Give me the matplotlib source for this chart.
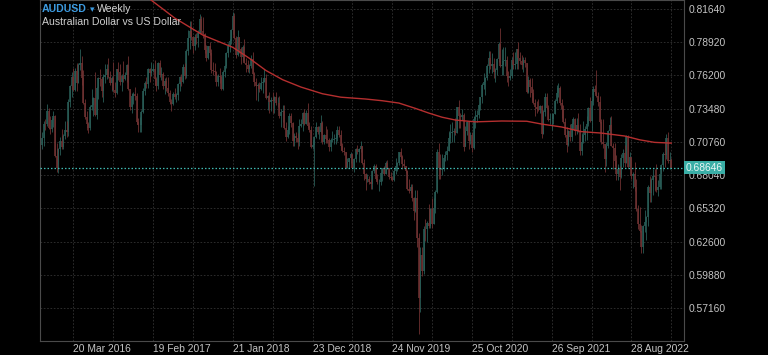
import numpy as np
import pandas as pd
import matplotlib
matplotlib.use("Agg")
import matplotlib.pyplot as plt
from matplotlib import transforms

plt.rcParams['font.family'] = ['Liberation Sans', 'DejaVu Sans']

# weekly AUDUSD candles, one per week, first week starts Sun 1 Nov 2015
first_week = "2015-11-01"
first_open = 0.7140

closes = [
    # 2015
    0.7047, 0.7105, 0.7225, 0.7220, 0.7325, 0.7190, 0.7180, 0.7255,
    # 2016
    0.7285, 0.6960, 0.6860, 0.7015, 0.7085, 0.7035, 0.7125, 0.7170, 0.7160, 0.7405,
    0.7530, 0.7605, 0.7500, 0.7660, 0.7555, 0.7705, 0.7725, 0.7600, 0.7395, 0.7280,
    0.7220, 0.7190, 0.7365, 0.7375, 0.7435, 0.7295, 0.7515, 0.7600, 0.7590, 0.7490,
    0.7605, 0.7620, 0.7670, 0.7610, 0.7555, 0.7595, 0.7500, 0.7480, 0.7670, 0.7650,
    0.7565, 0.7615, 0.7590, 0.7625, 0.7705, 0.7510, 0.7360, 0.7450, 0.7465, 0.7455,
    0.7240, 0.7215, 0.7215,
    # 2017
    0.7320, 0.7495, 0.7555, 0.7550, 0.7670, 0.7640, 0.7660, 0.7675, 0.7590, 0.7530,
    0.7720, 0.7625, 0.7635, 0.7530, 0.7575, 0.7520, 0.7475, 0.7405, 0.7385, 0.7470,
    0.7445, 0.7460, 0.7550, 0.7610, 0.7565, 0.7690, 0.7615, 0.7820, 0.7925, 0.7985,
    0.7935, 0.7865, 0.7935, 0.7930, 0.7970, 0.8085, 0.7985, 0.7960, 0.7830, 0.7760,
    0.7860, 0.7805, 0.7665, 0.7660, 0.7650, 0.7570, 0.7615, 0.7605, 0.7510, 0.7650,
    0.7695, 0.7805,
    # 2018
    0.7865, 0.7905, 0.7990, 0.8105, 0.7930, 0.7785, 0.7935, 0.7835, 0.7775, 0.7855,
    0.7725, 0.7705, 0.7675, 0.7695, 0.7755, 0.7635, 0.7565, 0.7530, 0.7540, 0.7510,
    0.7555, 0.7570, 0.7600, 0.7435, 0.7455, 0.7400, 0.7420, 0.7410, 0.7445, 0.7395,
    0.7395, 0.7285, 0.7320, 0.7325, 0.7190, 0.7115, 0.7170, 0.7290, 0.7230, 0.7080,
    0.7125, 0.7105, 0.7075, 0.7210, 0.7225, 0.7315, 0.7225, 0.7315, 0.7205, 0.7175,
    0.7035, 0.7050,
    # 2019
    0.7115, 0.7195, 0.7160, 0.7160, 0.7230, 0.7075, 0.7135, 0.7100, 0.7090, 0.7035,
    0.7095, 0.7095, 0.7100, 0.7105, 0.7170, 0.7135, 0.7045, 0.7005, 0.6995, 0.6865,
    0.6915, 0.6940, 0.6975, 0.6865, 0.6935, 0.7020, 0.6990, 0.7020, 0.7040, 0.6900,
    0.6810, 0.6775, 0.6775, 0.6745, 0.6735, 0.6835, 0.6875, 0.6770, 0.6750, 0.6750,
    0.6820, 0.6860, 0.6815, 0.6905, 0.6860, 0.6790, 0.6780, 0.6765, 0.6835, 0.6875,
    0.6900, 0.6990,
    # 2020
    0.6955, 0.6895, 0.6875, 0.6840, 0.6690, 0.6670, 0.6710, 0.6615, 0.6510, 0.6620,
    0.6290, 0.5800, 0.6150, 0.6015, 0.6365, 0.6360, 0.6410, 0.6390, 0.6525, 0.6400,
    0.6535, 0.6665, 0.6990, 0.6860, 0.6845, 0.6865, 0.6945, 0.6970, 0.7000, 0.7110,
    0.7145, 0.7155, 0.7165, 0.7150, 0.7360, 0.7285, 0.7280, 0.7300, 0.7035, 0.7165,
    0.7235, 0.7080, 0.7135, 0.7025, 0.7260, 0.7280, 0.7300, 0.7380, 0.7440, 0.7540,
    0.7570, 0.7600,
    # 2021
    0.7700, 0.7765, 0.7700, 0.7710, 0.7650, 0.7665, 0.7755, 0.7875, 0.7700, 0.7705,
    0.7735, 0.7745, 0.7615, 0.7595, 0.7615, 0.7745, 0.7705, 0.7715, 0.7835, 0.7765,
    0.7735, 0.7705, 0.7745, 0.7720, 0.7485, 0.7580, 0.7525, 0.7480, 0.7395, 0.7365,
    0.7345, 0.7340, 0.7370, 0.7140, 0.7320, 0.7440, 0.7355, 0.7255, 0.7260, 0.7265,
    0.7305, 0.7410, 0.7475, 0.7520, 0.7395, 0.7345, 0.7240, 0.7130, 0.7050, 0.7165,
    0.7115, 0.7225, 0.7265,
    # 2022
    0.7165, 0.7215, 0.7165, 0.7000, 0.7075, 0.7135, 0.7185, 0.7225, 0.7355, 0.7250,
    0.7410, 0.7510, 0.7485, 0.7455, 0.7405, 0.7240, 0.7075, 0.7055, 0.6935, 0.7045,
    0.7165, 0.7215, 0.7045, 0.7025, 0.6920, 0.6815, 0.6850, 0.6785, 0.6945, 0.6985,
    0.6905, 0.7115, 0.6870, 0.6955, 0.6795, 0.6815, 0.6705, 0.6525, 0.6400, 0.6350,
    0.6215, 0.6385, 0.6420, 0.6465, 0.6705, 0.6655, 0.6760, 0.6800, 0.6790, 0.6685,
    0.6705, 0.6815,
    # 2023
    0.6890, 0.6975, 0.6965, 0.7105, 0.6920, 0.6930, 0.68646,
]

highs = [
    # 2015
    0.7180, 0.7160, 0.7245, 0.7265, 0.7385, 0.7355, 0.7285, 0.7275,
    # 2016
    0.7325, 0.7295, 0.7070, 0.7030, 0.7115, 0.7185, 0.7140, 0.7250, 0.7245, 0.7430,
    0.7540, 0.7650, 0.7680, 0.7680, 0.7720, 0.7720, 0.7835, 0.7780, 0.7665, 0.7425,
    0.7330, 0.7240, 0.7375, 0.7505, 0.7445, 0.7650, 0.7525, 0.7610, 0.7675, 0.7605,
    0.7635, 0.7715, 0.7710, 0.7760, 0.7655, 0.7615, 0.7730, 0.7570, 0.7675, 0.7730,
    0.7710, 0.7635, 0.7735, 0.7650, 0.7710, 0.7780, 0.7510, 0.7475, 0.7485, 0.7525,
    0.7475, 0.7275, 0.7280,
    # 2017
    0.7335, 0.7520, 0.7575, 0.7610, 0.7680, 0.7680, 0.7730, 0.7710, 0.7745, 0.7605,
    0.7730, 0.7750, 0.7690, 0.7645, 0.7600, 0.7610, 0.7610, 0.7500, 0.7425, 0.7485,
    0.7515, 0.7475, 0.7560, 0.7615, 0.7635, 0.7715, 0.7720, 0.7835, 0.7990, 0.8065,
    0.8065, 0.7940, 0.7960, 0.7965, 0.7990, 0.8125, 0.8105, 0.8100, 0.7965, 0.7870,
    0.7865, 0.7895, 0.7840, 0.7730, 0.7720, 0.7660, 0.7630, 0.7680, 0.7620, 0.7665,
    0.7705, 0.7810,
    # 2018
    0.7885, 0.7915, 0.8000, 0.8136, 0.8135, 0.7945, 0.7990, 0.7935, 0.7850, 0.7870,
    0.7915, 0.7765, 0.7745, 0.7715, 0.7790, 0.7810, 0.7650, 0.7595, 0.7555, 0.7570,
    0.7610, 0.7580, 0.7675, 0.7630, 0.7460, 0.7485, 0.7440, 0.7485, 0.7450, 0.7485,
    0.7440, 0.7450, 0.7345, 0.7380, 0.7380, 0.7235, 0.7205, 0.7315, 0.7315, 0.7240,
    0.7145, 0.7160, 0.7150, 0.7260, 0.7260, 0.7320, 0.7345, 0.7340, 0.7395, 0.7235,
    0.7205, 0.7090,
    # 2019
    0.7125, 0.7235, 0.7205, 0.7205, 0.7295, 0.7245, 0.7140, 0.7205, 0.7180, 0.7110,
    0.7105, 0.7165, 0.7140, 0.7145, 0.7205, 0.7205, 0.7175, 0.7070, 0.7035, 0.6995,
    0.6940, 0.6940, 0.6990, 0.6980, 0.6945, 0.7030, 0.7050, 0.7025, 0.7080, 0.7045,
    0.6935, 0.6820, 0.6815, 0.6800, 0.6770, 0.6845, 0.6895, 0.6895, 0.6810, 0.6770,
    0.6830, 0.6865, 0.6880, 0.6920, 0.6930, 0.6865, 0.6830, 0.6800, 0.6860, 0.6940,
    0.6910, 0.6995,
    # 2020
    0.7030, 0.6965, 0.6935, 0.6880, 0.6845, 0.6775, 0.6730, 0.6735, 0.6625, 0.6685,
    0.6685, 0.6330, 0.6215, 0.6215, 0.6385, 0.6445, 0.6430, 0.6570, 0.6535, 0.6615,
    0.6615, 0.6685, 0.7015, 0.7065, 0.6975, 0.6975, 0.6950, 0.7000, 0.7040, 0.7165,
    0.7225, 0.7240, 0.7190, 0.7275, 0.7365, 0.7415, 0.7310, 0.7345, 0.7315, 0.7205,
    0.7245, 0.7245, 0.7160, 0.7160, 0.7290, 0.7340, 0.7340, 0.7385, 0.7445, 0.7555,
    0.7640, 0.7605,
    # 2021
    0.7710, 0.7820, 0.7820, 0.7805, 0.7765, 0.7685, 0.7760, 0.7890, 0.8007, 0.7840,
    0.7850, 0.7850, 0.7780, 0.7655, 0.7670, 0.7770, 0.7815, 0.7815, 0.7840, 0.7890,
    0.7810, 0.7790, 0.7775, 0.7775, 0.7725, 0.7615, 0.7600, 0.7600, 0.7505, 0.7425,
    0.7410, 0.7425, 0.7380, 0.7375, 0.7335, 0.7475, 0.7480, 0.7375, 0.7315, 0.7315,
    0.7315, 0.7425, 0.7545, 0.7555, 0.7535, 0.7425, 0.7375, 0.7275, 0.7195, 0.7175,
    0.7225, 0.7230, 0.7280,
    # 2022
    0.7275, 0.7275, 0.7315, 0.7225, 0.7145, 0.7250, 0.7210, 0.7285, 0.7365, 0.7440,
    0.7425, 0.7530, 0.7540, 0.7661, 0.7485, 0.7455, 0.7265, 0.7265, 0.7055, 0.7075,
    0.7170, 0.7280, 0.7285, 0.7070, 0.7070, 0.6965, 0.6895, 0.6875, 0.6975, 0.7015,
    0.7050, 0.7135, 0.7135, 0.6990, 0.6955, 0.6830, 0.6915, 0.6770, 0.6560, 0.6545,
    0.6395, 0.6395, 0.6520, 0.6470, 0.6720, 0.6795, 0.6780, 0.6850, 0.6850, 0.6895,
    0.6765, 0.6815,
    # 2023
    0.6895, 0.6990, 0.7065, 0.7140, 0.7158, 0.6995, 0.6945,
]

lows = [
    # 2015
    0.7015, 0.7015, 0.7045, 0.7175, 0.7205, 0.7180, 0.7140, 0.7160,
    # 2016
    0.7195, 0.6955, 0.6830, 0.6825, 0.6970, 0.7015, 0.7020, 0.7100, 0.7115, 0.7125,
    0.7365, 0.7440, 0.7490, 0.7490, 0.7490, 0.7555, 0.7665, 0.7540, 0.7385, 0.7265,
    0.7175, 0.7145, 0.7175, 0.7340, 0.7285, 0.7285, 0.7265, 0.7430, 0.7530, 0.7445,
    0.7400, 0.7560, 0.7590, 0.7595, 0.7545, 0.7490, 0.7485, 0.7445, 0.7465, 0.7580,
    0.7545, 0.7490, 0.7570, 0.7580, 0.7570, 0.7500, 0.7340, 0.7310, 0.7385, 0.7420,
    0.7225, 0.7160, 0.7160,
    # 2017
    0.7160, 0.7315, 0.7460, 0.7515, 0.7520, 0.7570, 0.7615, 0.7645, 0.7545, 0.7490,
    0.7510, 0.7610, 0.7580, 0.7505, 0.7470, 0.7490, 0.7455, 0.7390, 0.7330, 0.7375,
    0.7425, 0.7400, 0.7415, 0.7495, 0.7535, 0.7560, 0.7590, 0.7600, 0.7790, 0.7835,
    0.7910, 0.7805, 0.7830, 0.7875, 0.7855, 0.7970, 0.7960, 0.7930, 0.7805, 0.7735,
    0.7755, 0.7790, 0.7640, 0.7625, 0.7625, 0.7530, 0.7530, 0.7560, 0.7500, 0.7500,
    0.7610, 0.7680,
    # 2018
    0.7770, 0.7810, 0.7875, 0.7960, 0.7920, 0.7760, 0.7780, 0.7800, 0.7715, 0.7735,
    0.7720, 0.7645, 0.7650, 0.7640, 0.7680, 0.7630, 0.7535, 0.7415, 0.7410, 0.7485,
    0.7500, 0.7480, 0.7570, 0.7425, 0.7335, 0.7310, 0.7330, 0.7310, 0.7310, 0.7380,
    0.7360, 0.7275, 0.7200, 0.7240, 0.7185, 0.7085, 0.7110, 0.7140, 0.7200, 0.7040,
    0.7040, 0.7075, 0.7020, 0.7040, 0.7200, 0.7165, 0.7215, 0.7225, 0.7190, 0.7160,
    0.7025, 0.7015,
    # 2019
    0.6715, 0.7105, 0.7140, 0.7100, 0.7145, 0.7055, 0.7055, 0.7070, 0.7065, 0.7005,
    0.7000, 0.7075, 0.7055, 0.7060, 0.7080, 0.7120, 0.7010, 0.6990, 0.6970, 0.6860,
    0.6865, 0.6865, 0.6905, 0.6860, 0.6830, 0.6915, 0.6975, 0.6910, 0.6995, 0.6895,
    0.6760, 0.6680, 0.6745, 0.6735, 0.6690, 0.6690, 0.6825, 0.6760, 0.6735, 0.6670,
    0.6720, 0.6755, 0.6805, 0.6810, 0.6850, 0.6770, 0.6765, 0.6755, 0.6755, 0.6815,
    0.6835, 0.6890,
    # 2020
    0.6940, 0.6850, 0.6860, 0.6820, 0.6685, 0.6660, 0.6660, 0.6590, 0.6435, 0.6500,
    0.6215, 0.5506, 0.5685, 0.5980, 0.5995, 0.6265, 0.6255, 0.6370, 0.6370, 0.6370,
    0.6400, 0.6495, 0.6655, 0.6775, 0.6775, 0.6805, 0.6835, 0.6920, 0.6925, 0.7000,
    0.7070, 0.7075, 0.7075, 0.7135, 0.7150, 0.7190, 0.7190, 0.7255, 0.7005, 0.7040,
    0.7130, 0.7020, 0.7060, 0.6990, 0.7015, 0.7190, 0.7240, 0.7270, 0.7340, 0.7395,
    0.7510, 0.7460,
    # 2021
    0.7580, 0.7640, 0.7670, 0.7640, 0.7595, 0.7565, 0.7625, 0.7730, 0.7690, 0.7620,
    0.7625, 0.7700, 0.7565, 0.7530, 0.7585, 0.7600, 0.7675, 0.7675, 0.7675, 0.7675,
    0.7715, 0.7675, 0.7645, 0.7690, 0.7475, 0.7475, 0.7445, 0.7410, 0.7390, 0.7290,
    0.7315, 0.7330, 0.7315, 0.7105, 0.7140, 0.7290, 0.7345, 0.7250, 0.7220, 0.7170,
    0.7225, 0.7305, 0.7395, 0.7440, 0.7380, 0.7275, 0.7230, 0.7115, 0.6995, 0.7045,
    0.7085, 0.7085, 0.7180,
    # 2022
    0.7130, 0.7140, 0.7155, 0.6970, 0.6970, 0.7070, 0.7085, 0.7095, 0.7210, 0.7240,
    0.7165, 0.7375, 0.7465, 0.7440, 0.7370, 0.7230, 0.7055, 0.7030, 0.6830, 0.6875,
    0.7030, 0.7150, 0.7040, 0.6850, 0.6880, 0.6765, 0.6760, 0.6680, 0.6780, 0.6870,
    0.6870, 0.6900, 0.6860, 0.6855, 0.6770, 0.6700, 0.6670, 0.6510, 0.6365, 0.6340,
    0.6170, 0.6170, 0.6340, 0.6270, 0.6385, 0.6585, 0.6585, 0.6640, 0.6670, 0.6665,
    0.6630, 0.6690,
    # 2023
    0.6690, 0.6840, 0.6870, 0.6935, 0.6905, 0.6855, 0.6860,
]

last_price = 0.68646

# long moving average (week index, price)
ma_week = [62, 67, 81, 98, 116, 126, 136, 146, 157, 170, 181, 196, 206, 216,
           226, 234, 242, 250, 262, 278, 293, 302, 314, 326, 338, 352, 361,
           370, 380]
ma_value = [0.8290, 0.8235, 0.8090, 0.7950, 0.7850, 0.7760, 0.7660, 0.7585,
            0.7525, 0.7470, 0.7442, 0.7427, 0.7413, 0.7394, 0.7350, 0.7312,
            0.7278, 0.7255, 0.7240, 0.7247, 0.7245, 0.7222, 0.7198, 0.7160,
            0.7148, 0.7124, 0.7093, 0.7072, 0.7066]

y_ticks = [0.57160, 0.59880, 0.62600, 0.65320, 0.68040,
           0.70760, 0.73480, 0.76200, 0.78920, 0.81640]
x_label_dates = ["2016-03-20", "2017-02-19", "2018-01-21", "2018-12-23",
                 "2019-11-24", "2020-10-25", "2021-09-26", "2022-08-28"]

closes = np.array(closes)
highs = np.array(highs)
lows = np.array(lows)
opens = np.concatenate([[first_open], closes[:-1]])
weeks = np.arange(len(closes))

start = pd.Timestamp(first_week)
label_weeks = [(pd.Timestamp(d) - start).days / 7 for d in x_label_dates]
label_text = [pd.Timestamp(d).strftime("%d %b %Y") for d in x_label_dates]

up_col = "#295d57"
down_col = "#6e3131"
grid_col = "#333333"
text_col = "#c4c4c4"

fig = plt.figure(figsize=(7.68, 3.55), dpi=100, facecolor="black")
ax = fig.add_axes([40 / 768, 14 / 355, 644 / 768, 341 / 355])
ax.set_facecolor("black")
ax.set_xlim(-0.12, 387.7)
ax.set_ylim(0.54458, 0.82377)

# dotted grid
for w in np.arange(20, 388, 24):
    ax.axvline(w, color=grid_col, lw=0.6, ls=(0, (2, 2)), zorder=0)
for v in y_ticks:
    ax.axhline(v, color=grid_col, lw=0.6, ls=(0, (2, 2)), zorder=0)

up = closes >= opens
dn = ~up
ax.vlines(weeks[up], lows[up], highs[up], color=up_col, lw=0.6, zorder=2)
ax.vlines(weeks[up], opens[up], closes[up], color=up_col, lw=1.15, zorder=2)
ax.vlines(weeks[dn], lows[dn], highs[dn], color=down_col, lw=0.6, zorder=2)
ax.vlines(weeks[dn], opens[dn], closes[dn], color=down_col, lw=1.15, zorder=2)

ax.plot(ma_week, ma_value, color="#b52f2f", lw=1.0, zorder=3)

ax.axhline(last_price, color="#3fb8b0", lw=0.9, ls=(0, (1.2, 1.6)), zorder=4)

# axes styling
for side in ["left", "bottom", "right", "top"]:
    ax.spines[side].set_color("#4a4a4a")
    ax.spines[side].set_linewidth(0.8)

ax.yaxis.tick_right()
ax.set_yticks(y_ticks)
ax.set_yticklabels(["%.5f" % v for v in y_ticks])
ax.set_xticks(label_weeks)
ax.set_xticklabels(label_text, ha="left")
ax.tick_params(axis="both", length=0, colors=text_col, labelsize=7.4)
ax.tick_params(axis="y", pad=3)
ax.tick_params(axis="x", pad=2)

# current price box on the right axis
trans = transforms.blended_transform_factory(ax.transAxes, ax.transData)
ax.text(1.003, last_price, "0.68646", transform=trans, ha="left", va="center",
        fontsize=7.4, color="#e8f6f5", zorder=6, clip_on=False,
        bbox=dict(boxstyle="square,pad=0.15", fc="#3aaea6", ec="none"))

# header
fig.text(42 / 768, 1 - 9 / 355, "AUDUSD", color="#3d9be0", fontsize=7.6,
         fontweight="bold", va="center", ha="left")
fig.text(90 / 768, 1 - 9.5 / 355, "\u25be", color="#3d9be0", fontsize=6.5,
         va="center", ha="left")
fig.text(97 / 768, 1 - 9 / 355, "Weekly", color="#d6d6d6", fontsize=7.6,
         va="center", ha="left")
fig.text(42 / 768, 1 - 22 / 355, "Australian Dollar vs US Dollar", color="#cfcfcf",
         fontsize=7.6, va="center", ha="left")

fig.savefig("out.png", dpi=100, facecolor="black")
